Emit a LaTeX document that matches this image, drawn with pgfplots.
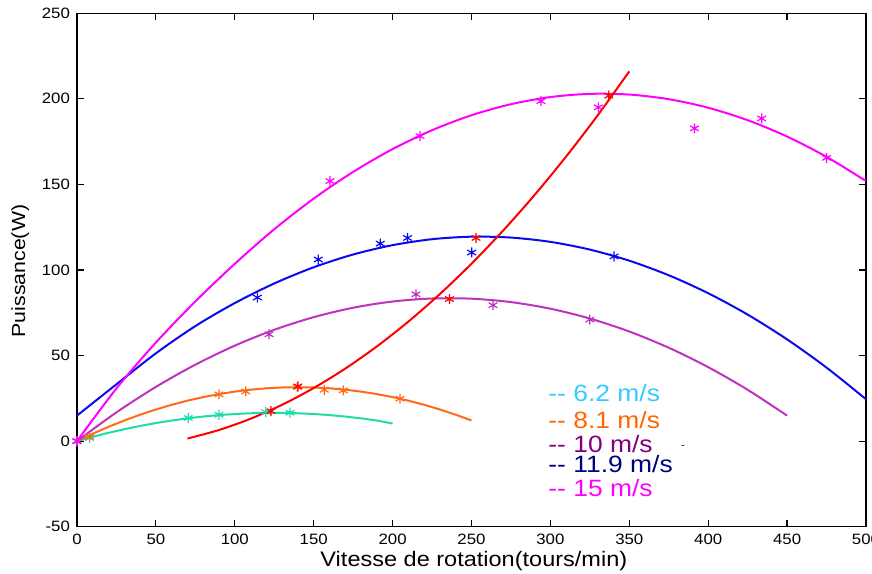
\documentclass[border=0pt]{standalone}
\usepackage{fontspec}
\setmainfont{Liberation Sans}[FakeStretch=1.12]
\usepackage{pgfplots}
\pgfplotsset{compat=1.18}
\definecolor{cCyanC}{RGB}{30,220,170}
\definecolor{cOrange}{RGB}{255,106,26}
\definecolor{cPurpleC}{RGB}{190,50,190}
\definecolor{cBlue}{RGB}{10,10,240}
\definecolor{cRed}{RGB}{255,0,0}
\definecolor{cMag}{RGB}{255,0,255}
\definecolor{tCyan}{RGB}{51,204,255}
\definecolor{tOrange}{RGB}{255,102,0}
\definecolor{tPurple}{RGB}{128,0,128}
\definecolor{tNavy}{RGB}{0,0,128}
\begin{document}
\begin{tikzpicture}
\useasboundingbox (-38.5pt,-23.15pt) rectangle (397.5pt,263.35pt);
\begin{axis}[
  at={(0,0)}, anchor=south west,
  scale only axis, width=394.5pt, height=256.75pt,
  xmin=0, xmax=500, ymin=-50, ymax=250,
  xtick={0,50,...,500}, ytick={-50,0,...,250},
  tick align=inside, major tick length=3.5pt,
  axis line style={line width=0.6pt}, tick style={line width=0.6pt, black},
  /pgf/number format/assume math mode=true,
  ticklabel style={font=\fontsize{7.5}{9}\selectfont},
  xlabel={Vitesse de rotation(tours/min)},
  ylabel={Puissance(W)},
  xlabel style={font=\fontsize{10.5}{12}\selectfont, at={(axis description cs:0.503,-0.067)}, anchor=center},
  ylabel style={font=\fontsize{9.5}{11}\selectfont, at={(axis description cs:-0.072,0.498)}, anchor=center},
  every axis plot/.append style={line width=1pt},
]
% 6.2 m/s
\addplot[cCyanC, no markers] coordinates {(0,0) (10,2.53) (20,4.86) (30,6.97) (40,8.87) (50,10.56) (60,12.04) (70,13.31) (80,14.36) (90,15.21) (100,15.84) (110,16.26) (120,16.47) (130,16.47) (140,16.26) (150,15.84) (160,15.21) (170,14.36) (180,13.31) (190,12.04) (200,10.3)};
\addplot[cCyanC, only marks, mark=asterisk, mark size=2.5pt, line width=0.6pt] coordinates {(0,0) (8,1.8) (70.5,13.5) (90,15.4) (119.6,17) (135,16.6)};
% 8.1 m/s
\addplot[cOrange, no markers] coordinates {(0,0) (10,4.34) (20,8.36) (30,12.06) (40,15.43) (50,18.48) (60,21.22) (70,23.63) (80,25.71) (90,27.48) (100,28.93) (110,30.05) (120,30.86) (130,31.34) (140,31.5) (150,31.34) (160,30.86) (170,30.05) (180,28.93) (190,27.48) (200,25.71) (210,23.63) (220,21.22) (230,18.48) (240,15.43) (250,12.06)};
\addplot[cOrange, only marks, mark=asterisk, mark size=2.5pt, line width=0.6pt] coordinates {(0,0) (8,2.5) (90,27.3) (107,29) (139.6,31.6) (156.7,30) (168.7,29.6) (204.7,24.8)};
% 10 m/s
\addplot[cPurpleC, no markers, smooth] coordinates {(0,0) (25,16.81) (50,31.68) (75,44.67) (100,55.79) (125,65.04) (150,72.42) (175,77.93) (200,81.56) (225,83.32) (250,83.21) (275,81.22) (300,77.36) (325,71.63) (350,64.03) (375,54.56) (400,43.21) (425,29.99) (450,14.9)};
\addplot[cPurpleC, only marks, mark=asterisk, mark size=2.5pt, line width=0.6pt] coordinates {(0,0) (121.7,62.4) (214.8,85.8) (263.6,79.4) (325,71)};
% 11.9 m/s
\addplot[cBlue, no markers, smooth] coordinates {(0,14.9) (25,33.2) (50,51.3) (75,67.21) (100,80.66) (125,92.11) (150,101.57) (175,109.03) (200,114.49) (225,117.97) (250,119.44) (275,118.92) (300,116.41) (325,111.9) (350,105.4) (375,96.9) (400,86.41) (425,73.92) (450,59.43) (475,42.95) (500,24.48)};
\addplot[cBlue, only marks, mark=asterisk, mark size=2.5pt, line width=0.6pt] coordinates {(114.3,83.9) (152.9,106.1) (192.2,115.4) (209.5,118.7) (250.1,110.2) (340.3,107.9)};
% 15 m/s
\addplot[cMag, no markers, smooth] coordinates {(0,0) (25,30.8) (50,57.6) (75,81.6) (100,103.6) (125,123.78) (150,141.68) (175,157.29) (200,170.61) (225,181.64) (250,190.39) (275,196.84) (300,201.01) (325,202.88) (350,202.47) (375,199.77) (400,194.78) (425,187.5) (450,177.94) (475,166.08) (500,151.93)};
\addplot[cMag, only marks, mark=asterisk, mark size=2.5pt, line width=0.6pt] coordinates {(0,0) (160.3,151.9) (217.4,178.2) (294,198.6) (330.4,195) (391.3,182.7) (433.9,188.5) (475,165.5)};
% max power curve
\addplot[cRed, no markers, smooth] coordinates {(70,1.5) (90,6.5) (110,13.08) (130,21.25) (150,31.02) (170,42.37) (190,55.3) (210,69.83) (230,85.95) (250,103.66) (270,122.95) (290,143.83) (310,166.3) (330,190.37) (350,216.02)};
\addplot[cRed, only marks, mark=asterisk, mark size=2.5pt, line width=0.6pt] coordinates {(123,17.5) (140,32) (236,83) (252.9,118.7) (337,201.8)};
% legend text
\node[anchor=west, inner sep=0pt, text=tCyan, font=\fontsize{11.8}{13}\selectfont] at (axis cs:298.5,27.9) {-{}- 6.2 m/s};
\node[anchor=west, inner sep=0pt, text=tOrange, font=\fontsize{11.8}{13}\selectfont] at (axis cs:298.5,12.5) {-{}- 8.1 m/s};
\node[anchor=west, inner sep=0pt, text=tPurple, font=\fontsize{11.8}{13}\selectfont] at (axis cs:298.5,-1.5) {-{}- 10 m/s};
\node[anchor=west, inner sep=0pt, text=tNavy, font=\fontsize{11.8}{13}\selectfont] at (axis cs:298.5,-13.6) {-{}- 11.9 m/s};
\node[anchor=west, inner sep=0pt, text=cMag, font=\fontsize{11.8}{13}\selectfont] at (axis cs:298.5,-27.3) {-{}- 15 m/s};
\node[font=\fontsize{5}{6}\selectfont] at (axis cs:384,-3.7) {-};
\end{axis}
\end{tikzpicture}
\end{document}
